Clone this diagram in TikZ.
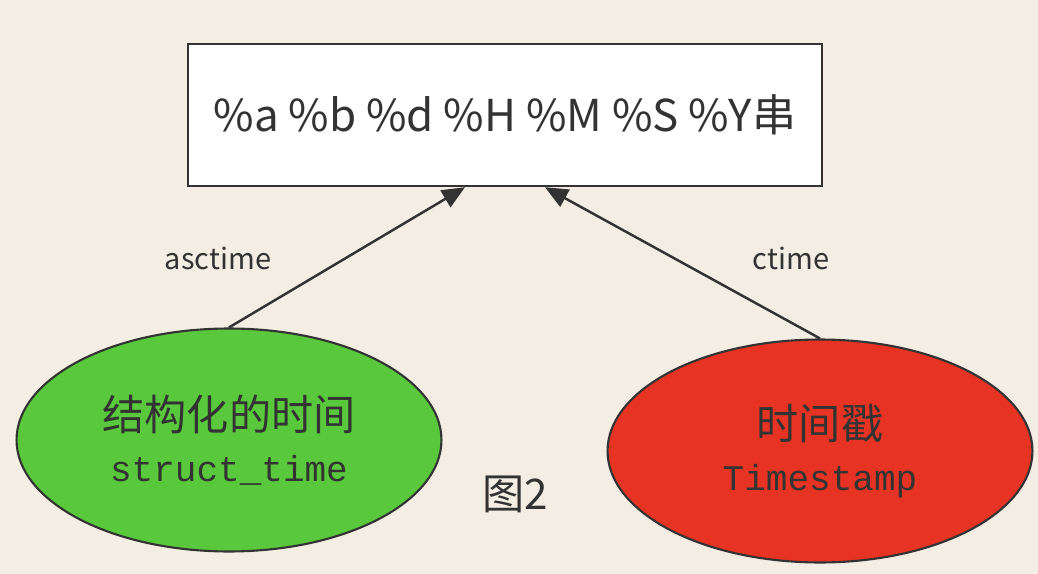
\documentclass[tikz,border=0pt]{standalone}
\usepackage{fontspec}
\setmainfont{Noto Sans CJK SC}
\newfontfamily\cjk{Noto Sans CJK SC}
\newfontfamily\mono{Liberation Mono}
\usetikzlibrary{shapes.geometric,arrows.meta}

\definecolor{paper}{HTML}{F3EDE4}
\definecolor{ink}{HTML}{333333}
\definecolor{leafgreen}{HTML}{5AC83C}
\definecolor{tomato}{HTML}{E63323}

\tikzset{
  formatbox/.style={draw=ink, line width=1.4pt, fill=white, text=ink,
    minimum width=12.68cm, minimum height=2.84cm, font=\fontsize{25}{30}\selectfont},
  timeoval/.style={ellipse, draw=ink, line width=1.2pt, text=ink, align=center,
    minimum width=8.5cm, minimum height=4.46cm, inner sep=0pt},
  funcname/.style={text=ink, font=\fontsize{16.5}{20}\selectfont},
  conv/.style={-{Triangle[length=13pt,width=11pt]}, draw=ink, line width=1.4pt}
}

\begin{document}
\begin{tikzpicture}[x=0.02cm, y=-0.02cm]
                % Background
                \path[fill=paper] (0,0) rectangle (1038,574);

                % Target string
                \node[formatbox] (str) at (505,115) {\%a \%b \%d \%H \%M \%S \%Y串};

                % struct_time
                \node[timeoval, fill=leafgreen] (st) at (229,440)
                  {{\cjk\fontsize{24}{28}\selectfont 结构化的时间}\\[11pt]
                   {\mono\fontsize{20.5}{24}\selectfont struct\_time}};

                % Timestamp
                \node[timeoval, fill=tomato] (ts) at (820,451)
                  {{\cjk\fontsize{24}{28}\selectfont 时间戳}\\[11pt]
                   {\mono\fontsize{20.5}{24}\selectfont Timestamp}};

                % Conversions
                \draw[conv] (st.north) -- ([xshift=-0.8cm]str.south);
                \draw[conv] (ts.north) -- ([xshift=0.8cm]str.south);
                \node[funcname] (asc) at (218,258) {asctime};
                \node[funcname] (ct) at (791,258) {ctime};

                % Caption
                \node[text=ink, font=\fontsize{24}{28}\selectfont] (cap) at (515,494) {图2};
            \end{tikzpicture}
\end{document}
